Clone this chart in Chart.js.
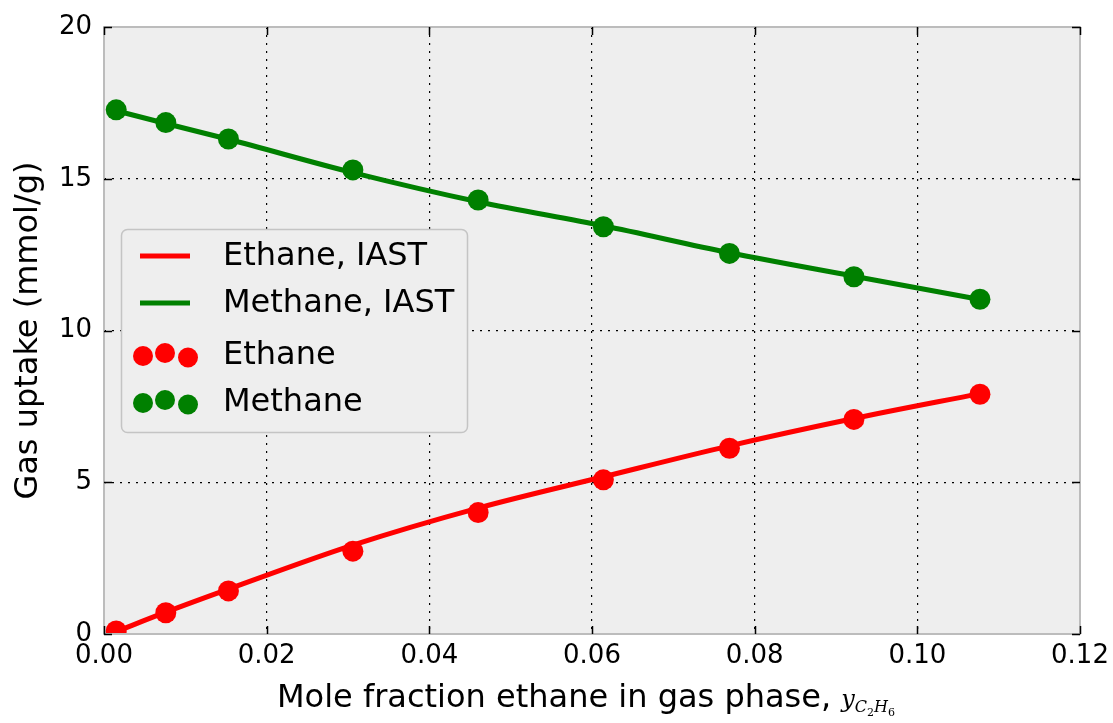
<!DOCTYPE html>
<html>
<head>
<meta charset="utf-8">
<script src="https://cdn.jsdelivr.net/npm/chart.js@4/dist/chart.umd.min.js"></script>
<style>
html,body{margin:0;padding:0;background:#fff;}
#wrap{width:1113px;height:723px;}
</style>
</head>
<body>
<div id="wrap"><canvas id="c" width="1113" height="723"></canvas></div>
<script>
// ---- data ----
const xFraction = [0.0015, 0.0076, 0.0153, 0.0306, 0.0460, 0.0614, 0.0769, 0.0922, 0.1077];
const ethaneMeasured  = [0.10, 0.70, 1.42, 2.73, 4.00, 5.08, 6.12, 7.07, 7.90];
const methaneMeasured = [17.27, 16.85, 16.31, 15.29, 14.30, 13.42, 12.54, 11.77, 11.03];
const ethaneIAST  = [0.08, 0.72, 1.48, 2.93, 4.15, 5.18, 6.20, 7.10, 7.92];
const methaneIAST = [17.24, 16.82, 16.30, 15.20, 14.24, 13.45, 12.56, 11.79, 11.02];
const xTicks = [0, 0.02, 0.04, 0.06, 0.08, 0.10, 0.12];
const yTicks = [0, 5, 10, 15, 20];
const legendLabels = ['Ethane, IAST', 'Methane, IAST', 'Ethane', 'Methane'];

const RED = '#ff0000', GREEN = '#008000';
const FONT = '"DejaVu Sans", sans-serif';

function pts(xs, ys){ return xs.map((x,i)=>({x:x, y:ys[i]})); }

const bgPlugin = {
  id:'bg',
  beforeDraw(chart){
    const {ctx, chartArea:a} = chart;
    ctx.save();
    ctx.fillStyle = '#eeeeee';
    ctx.fillRect(a.left, a.top, a.right-a.left, a.bottom-a.top);
    ctx.restore();
  }
};

const decoPlugin = {
  id:'deco',
  afterDraw(chart){
    const {ctx, chartArea:a} = chart;
    const xs = chart.scales.x, ys = chart.scales.y;
    ctx.save();
    // frame
    ctx.strokeStyle = '#bcbcbc';
    ctx.lineWidth = 2;
    ctx.strokeRect(a.left, a.top, a.right-a.left, a.bottom-a.top);
    // inward ticks on all sides
    ctx.strokeStyle = '#000';
    ctx.lineWidth = 1.5;
    const TL = 8;
    ctx.beginPath();
    xTicks.forEach(v=>{
      const p = Math.round(xs.getPixelForValue(v))+0.5;
      ctx.moveTo(p, a.bottom); ctx.lineTo(p, a.bottom-TL);
      ctx.moveTo(p, a.top); ctx.lineTo(p, a.top+TL);
    });
    yTicks.forEach(v=>{
      const p = Math.round(ys.getPixelForValue(v))+0.5;
      ctx.moveTo(a.left, p); ctx.lineTo(a.left+TL, p);
      ctx.moveTo(a.right, p); ctx.lineTo(a.right-TL, p);
    });
    ctx.stroke();

    // y title
    ctx.fillStyle = '#000';
    ctx.font = '32px ' + FONT;
    ctx.textAlign = 'center';
    ctx.textBaseline = 'middle';
    ctx.save();
    ctx.translate(29, (a.top+a.bottom)/2);
    ctx.rotate(-Math.PI/2);
    ctx.fillText('Gas uptake (mmol/g)', 0, 0);
    ctx.restore();

    // x title with math subscript
    const main = 'Mole fraction ethane in gas phase, ';
    const serifI = (s)=> 'italic ' + s + 'px "DejaVu Serif", "Liberation Serif", serif';
    const serif = (s)=> s + 'px "DejaVu Serif", "Liberation Serif", serif';
    const parts = [
      {t:main, f:'32px '+FONT, dy:0},
      {t:'y', f:serifI(24), dy:0},
      {t:'C', f:serifI(16), dy:5},
      {t:'2', f:serif(11), dy:9},
      {t:'H', f:serifI(16), dy:5},
      {t:'6', f:serif(11), dy:9}
    ];
    parts.forEach(p=>{ ctx.font = p.f; p.w = ctx.measureText(p.t).width; });
    let x = 277;
    const base = 707;
    ctx.textAlign = 'left';
    ctx.textBaseline = 'alphabetic';
    parts.forEach(p=>{ ctx.font = p.f; ctx.fillText(p.t, x, base + p.dy); x += p.w; });

    // legend
    const L = {x:121, y:229, w:346, h:203};
    ctx.beginPath();
    if (ctx.roundRect) ctx.roundRect(L.x+0.5, L.y+0.5, L.w, L.h, 6); else ctx.rect(L.x+0.5, L.y+0.5, L.w, L.h);
    ctx.fillStyle = '#eeeeee';
    ctx.fill();
    ctx.strokeStyle = '#c4c4c4';
    ctx.lineWidth = 1.5;
    ctx.stroke();
    const rowsY = [256, 303, 355, 402];
    ctx.lineWidth = 5;
    [[RED,0],[GREEN,1]].forEach(([c,i])=>{
      ctx.strokeStyle = c;
      ctx.beginPath(); ctx.moveTo(140, rowsY[i]); ctx.lineTo(190, rowsY[i]); ctx.stroke();
    });
    [[RED,2],[GREEN,3]].forEach(([c,i])=>{
      ctx.fillStyle = c;
      [[143,1],[165,-2],[188,2.5]].forEach(([cx,off])=>{
        ctx.beginPath(); ctx.arc(cx, rowsY[i]+off, 10, 0, Math.PI*2); ctx.fill();
      });
    });
    ctx.fillStyle = '#000';
    ctx.font = '32px ' + FONT;
    ctx.textBaseline = 'middle';
    legendLabels.forEach((t,i)=> ctx.fillText(t, 223, rowsY[i]+1));
    ctx.restore();
  }
};

new Chart(document.getElementById('c'), {
  type:'scatter',
  data:{
    datasets:[
      {label:legendLabels[0], data:pts(xFraction, ethaneIAST), showLine:true, borderColor:RED, borderWidth:5, pointRadius:0, cubicInterpolationMode:'monotone', order:4},
      {label:legendLabels[1], data:pts(xFraction, methaneIAST), showLine:true, borderColor:GREEN, borderWidth:5, pointRadius:0, cubicInterpolationMode:'monotone', order:3},
      {label:legendLabels[2], data:pts(xFraction, ethaneMeasured), showLine:false, backgroundColor:RED, borderColor:RED, borderWidth:0, pointRadius:10.5, order:2},
      {label:legendLabels[3], data:pts(xFraction, methaneMeasured), showLine:false, backgroundColor:GREEN, borderColor:GREEN, borderWidth:0, pointRadius:10.5, order:1}
    ]
  },
  options:{
    responsive:false,
    animation:false,
    layout:{padding:{top:27, right:33, left:0, bottom:0}},
    plugins:{legend:{display:false}, tooltip:{enabled:false}},
    scales:{
      x:{
        type:'linear', min:0, max:0.12,
        afterBuildTicks(s){ s.ticks = xTicks.map(v=>({value:v})); },
        afterFit(s){ s.height = 89; s.paddingRight = 0; s.paddingLeft = 0; },
        ticks:{ font:{family:FONT, size:26}, color:'#000', padding:7, maxRotation:0, callback:(v)=>Number(v).toFixed(2) },
        grid:{ color:'#000', lineWidth:1.2, drawTicks:false },
        border:{ display:false, dash:[2,6] }
      },
      y:{
        type:'linear', min:0, max:20,
        afterBuildTicks(s){ s.ticks = yTicks.map(v=>({value:v})); },
        afterFit(s){ s.width = 104; s.paddingTop = 0; s.paddingBottom = 0; },
        ticks:{ font:{family:FONT, size:26}, color:'#000', padding:12, callback:(v)=>String(v) },
        grid:{ color:'#000', lineWidth:1.2, drawTicks:false },
        border:{ display:false, dash:[2,6] }
      }
    }
  },
  plugins:[bgPlugin, decoPlugin]
});
</script>
</body>
</html>
